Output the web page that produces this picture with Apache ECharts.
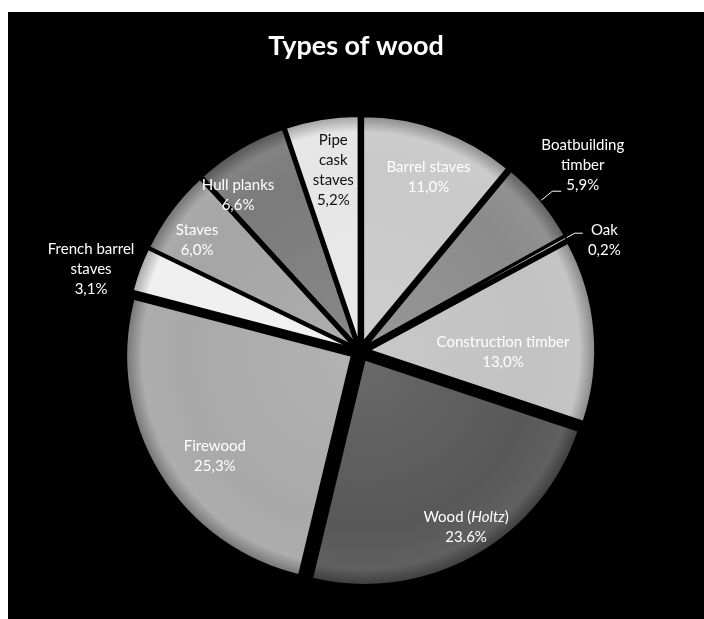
<!DOCTYPE html>
<html>
<head>
<meta charset="utf-8">
<script src="https://cdn.jsdelivr.net/npm/echarts@6/dist/echarts.min.js"></script>
<style>
  html, body { margin: 0; padding: 0; background: #000; width: 704px; height: 619px; overflow: hidden; }
  #chart { position: absolute; left: 8px; top: 12px; width: 696px; height: 607px; }
  .edge { position: absolute; background: #fff; z-index: 2; }
  #edgeTop { left: 0; top: 0; width: 704px; height: 12px; }
  #edgeLeft { left: 0; top: 0; width: 8px; height: 619px; }
</style>
</head>
<body>
<div id="chart"></div>
<div class="edge" id="edgeTop"></div>
<div class="edge" id="edgeLeft"></div>
<script>
// Share of each type of wood, clockwise from 12 o'clock
const categories = ['Barrel staves', 'Boatbuilding\ntimber', 'Oak', 'Construction timber',
  'Wood (Holtz)', 'Firewood', 'French barrel\nstaves', 'Staves', 'Hull planks', 'Pipe\ncask\nstaves'];
const values = [11.0, 5.9, 0.2, 13.0, 23.6, 25.3, 3.1, 6.0, 6.6, 5.2];
// decimal mark used in each printed percentage
const decimalMarks = [',', ',', ',', ',', '.', ',', ',', ',', ',', ','];

// Styling
const sliceColors = ['#c9c9c9', '#8b8b8b', '#d6d6d6', '#c2c2c2', '#585858',
  '#a9a9a9', '#efefef', '#a5a5a5', '#7b7b7b', '#e6e6e6'];
const labelColors = ['#fff', '#fff', '#fff', '#fff', '#fff', '#fff', '#fff', '#fff', '#fff', '#111'];
// inside labels: wanted distance from the pie centre and small angular nudge (deg)
const labelRadius = [184, null, null, 140, 203, 176, null, 194, 195, 180];
const labelTurn = [1.7, 0, 0, 5.4, -2, -5, 0, -2.5, -7.5, 1];

const CX = 352, CY = 339, R = 225, OFFSET = 10;
const FONT = 'Lato';

function shade(hex, k) {
  const n = parseInt(hex.slice(1), 16);
  const r = (n >> 16) & 255, g = (n >> 8) & 255, b = n & 255;
  const f = c => Math.max(0, Math.min(255, Math.round(k >= 0 ? c + (255 - c) * k : c * (1 + k))));
  return 'rgb(' + f(r) + ',' + f(g) + ',' + f(b) + ')';
}
function fill(hex) {
  return {
    type: 'radial', x: CX, y: CY, r: R, global: true,
    colorStops: [
      { offset: 0, color: shade(hex, 0.10) },
      { offset: 0.75, color: hex },
      { offset: 0.93, color: shade(hex, 0.05) },
      { offset: 1, color: shade(hex, -0.30) }
    ]
  };
}
function pct(i) {
  return values[i].toFixed(1).replace('.', decimalMarks[i]) + '%';
}

// Mid-angle of each slice (radians, clockwise from 12 o'clock), from the values
const total = values.reduce((a, b) => a + b, 0);
const midAngles = [];
values.reduce((acc, v) => { midAngles.push((acc + v / 2) / total * 2 * Math.PI); return acc + v; }, 0);

// Inside labels sit half-way out along the slice; pad the text box on one
// side so the text itself lands further out.
function insidePadding(i) {
  const a0 = midAngles[i];
  const d0 = R / 2 + OFFSET;
  const a1 = a0 + labelTurn[i] * Math.PI / 180;
  const sx = labelRadius[i] * Math.sin(a1) - d0 * Math.sin(a0);
  const sy = -labelRadius[i] * Math.cos(a1) + d0 * Math.cos(a0);
  return [
    sy > 0 ? 2 * sy : 0,
    sx < 0 ? -2 * sx : 0,
    sy < 0 ? -2 * sy : 0,
    sx > 0 ? 2 * sx : 0
  ];
}

const ctx = document.createElement('canvas').getContext('2d');
ctx.font = '15px ' + FONT;
const textW = s => Math.ceil(ctx.measureText(s).width);

// outside labels: rich token width keeps each block's lines centred
const outside = {
  1: { tok: 'b', w: textW(pct(1)), padding: [0, 0, 52, 0], line: { show: true, length: 15, length2: 9 } },
  2: { tok: 'o', w: textW(pct(2)), padding: [14, 0, 0, 0], line: { show: true, length: 10, length2: 8 } },
  6: { tok: 'f', w: textW('French barrel'), padding: 0, line: { show: false, length: 0, length2: 0 } }
};

const richBase = { color: '#fff', fontFamily: FONT, fontSize: 15, lineHeight: 20 };
const rich = {
  i: Object.assign({}, richBase, { fontStyle: 'italic' }),
  b: Object.assign({}, richBase, { width: outside[1].w, align: 'center' }),
  o: Object.assign({}, richBase, { width: outside[2].w, align: 'center' }),
  f: Object.assign({}, richBase, { width: outside[6].w, align: 'center' })
};

const data = categories.map((name, i) => {
  const item = {
    name: name, value: values[i], selected: true,
    itemStyle: { color: fill(sliceColors[i]) }
  };
  if (outside[i]) {
    item.label = { position: 'outside', padding: outside[i].padding, color: '#fff' };
    item.labelLine = Object.assign({ lineStyle: { color: '#fff', width: 1 } }, outside[i].line);
  } else {
    item.label = { position: 'inside', color: labelColors[i], padding: insidePadding(i) };
  }
  return item;
});

const chart = echarts.init(document.getElementById('chart'), null, { renderer: 'canvas' });
chart.setOption({
  backgroundColor: '#000',
  animation: false,
  title: {
    text: 'Types of wood', left: 'center', top: 16,
    textStyle: { color: '#fff', fontFamily: FONT, fontWeight: 'bold', fontSize: 27 }
  },
  series: [{
    type: 'pie',
    center: [CX, CY],
    radius: R,
    startAngle: 90,
    clockwise: true,
    selectedMode: 'multiple',
    selectedOffset: OFFSET,
    avoidLabelOverlap: false,
    emphasis: { disabled: true },
    itemStyle: { borderColor: '#000', borderWidth: 1.5 },
    label: {
      show: true, position: 'inside', color: '#fff',
      fontFamily: FONT, fontSize: 15, lineHeight: 20,
      formatter: p => {
        const i = p.dataIndex;
        const lines = categories[i].split('\n').concat([pct(i)]);
        if (outside[i]) {
          const t = outside[i].tok;
          return lines.map(s => '{' + t + '|' + s + '}').join('\n');
        }
        return lines.join('\n').replace('Holtz', '{i|Holtz}');
      },
      rich: rich
    },
    labelLine: { show: false },
    labelLayout: { hideOverlap: false },
    data: data
  }]
});
</script>
</body>
</html>
